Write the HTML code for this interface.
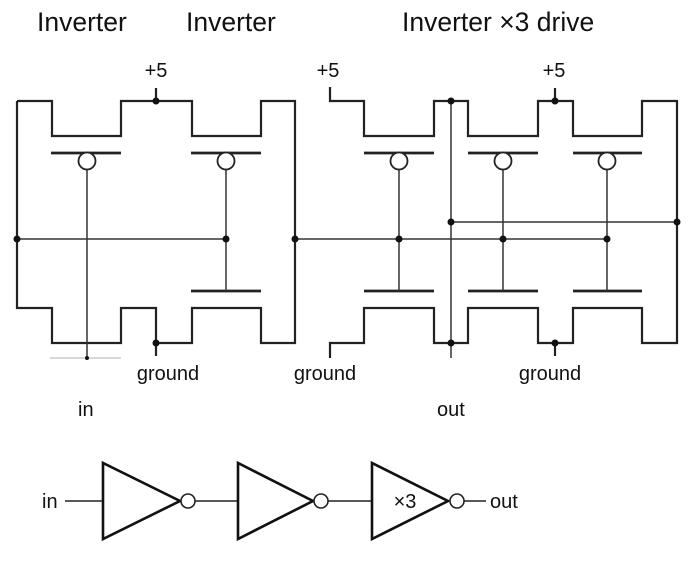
<!DOCTYPE html>
<html><head><style>
body{margin:0;background:#fff;width:700px;height:562px;overflow:hidden}
svg{display:block}
text{font-family:"Liberation Sans",sans-serif;fill:#111}
</style></head><body>
<svg width="700" height="562" viewBox="0 0 700 562">
<g font-size="26.5">
<text x="37" y="31">Inverter</text>
<text x="186" y="31">Inverter</text>
<text x="402" y="31">Inverter ×3 drive</text>
</g>
<g font-size="20">
<text x="156" y="77" text-anchor="middle">+5</text>
<text x="328" y="77" text-anchor="middle">+5</text>
<text x="554" y="77" text-anchor="middle">+5</text>
<text x="168" y="380" text-anchor="middle">ground</text>
<text x="325" y="380" text-anchor="middle">ground</text>
<text x="550" y="380" text-anchor="middle">ground</text>
<text x="78" y="416">in</text>
<text x="437" y="416">out</text>
<text x="42" y="508">in</text>
<text x="490" y="508">out</text>
<text x="405" y="508" text-anchor="middle">×3</text>
</g>
<g fill="none" stroke="#222" stroke-width="2.2">
<polyline points="17,101 52,101 52,136 121,136 121,101 192,101 192,136 261,136 261,101 295,101 295,343 261,343 261,308 192,308 192,343 156,343 156,308 121,308 121,343 52,343 52,308 17,308 17,101"/>
<line x1="156" y1="88" x2="156" y2="101"/>
<line x1="156" y1="343" x2="156" y2="356"/>
<line x1="51" y1="153" x2="121" y2="153" stroke-width="2.8"/>
<line x1="191" y1="153" x2="261" y2="153" stroke-width="2.8"/>
<line x1="191" y1="291" x2="261" y2="291" stroke-width="2.8"/>
<polyline points="330,87 330,101 364,101 364,136 434,136 434,101 468,101 468,136 538,136 538,101 573,101 573,136 642,136 642,101 677,101 677,343 642,343 642,308 573,308 573,343 538,343 538,308 468,308 468,343 434,343 434,308 364,308 364,343 330,343 330,358"/>
<line x1="555" y1="88" x2="555" y2="101"/>
<line x1="555" y1="343" x2="555" y2="356"/>
<line x1="364" y1="153" x2="434" y2="153" stroke-width="2.8"/>
<line x1="468" y1="153" x2="538" y2="153" stroke-width="2.8"/>
<line x1="573" y1="153" x2="642" y2="153" stroke-width="2.8"/>
<line x1="364" y1="291" x2="434" y2="291" stroke-width="2.8"/>
<line x1="468" y1="291" x2="538" y2="291" stroke-width="2.8"/>
<line x1="573" y1="291" x2="642" y2="291" stroke-width="2.8"/>
</g>
<g fill="none" stroke="#333" stroke-width="1.5">
<line x1="87" y1="170" x2="87" y2="358"/>
<line x1="50" y1="358" x2="121" y2="358" stroke="#ccc"/>
<line x1="226" y1="170" x2="226" y2="291"/>
<line x1="17" y1="239" x2="226" y2="239"/>
<line x1="295" y1="239" x2="607" y2="239"/>
<line x1="399" y1="170" x2="399" y2="291"/>
<line x1="503" y1="170" x2="503" y2="291"/>
<line x1="607" y1="170" x2="607" y2="291"/>
<line x1="451" y1="101" x2="451" y2="358"/>
<line x1="451" y1="222" x2="677" y2="222"/>
</g>
<g fill="#fff" stroke="#222" stroke-width="1.8">
<circle cx="87" cy="161" r="8.5"/><circle cx="226" cy="161" r="8.5"/>
<circle cx="399" cy="161" r="8.5"/><circle cx="503" cy="161" r="8.5"/><circle cx="607" cy="161" r="8.5"/>
</g>
<g fill="#111">
<circle cx="156" cy="101" r="3.5"/><circle cx="156" cy="343" r="3.5"/>
<circle cx="17" cy="239" r="3.5"/><circle cx="226" cy="239" r="3.5"/><circle cx="295" cy="239" r="3.5"/>
<circle cx="399" cy="239" r="3.5"/><circle cx="503" cy="239" r="3.5"/><circle cx="607" cy="239" r="3.5"/>
<circle cx="451" cy="101" r="3.5"/><circle cx="451" cy="343" r="3.5"/><circle cx="451" cy="222" r="3.5"/>
<circle cx="677" cy="222" r="3.5"/><circle cx="555" cy="101" r="3.5"/><circle cx="555" cy="343" r="3.5"/>
<circle cx="87" cy="358" r="2"/>
</g>
<g fill="none" stroke="#222" stroke-width="1.5">
<line x1="65" y1="501" x2="103" y2="501"/>
<line x1="195" y1="501" x2="238" y2="501"/>
<line x1="328" y1="501" x2="372" y2="501"/>
<line x1="464" y1="501" x2="486" y2="501"/>
</g>
<g fill="none" stroke="#111" stroke-width="2.6">
<polygon points="103,463 103,539 180,501"/>
<polygon points="238,463 238,539 313,501"/>
<polygon points="372,463 372,539 448,501"/>
</g>
<g fill="#fff" stroke="#222" stroke-width="1.6">
<circle cx="188" cy="501" r="7"/><circle cx="321" cy="501" r="7"/><circle cx="457" cy="501" r="7"/>
</g>
</svg>
</body></html>
